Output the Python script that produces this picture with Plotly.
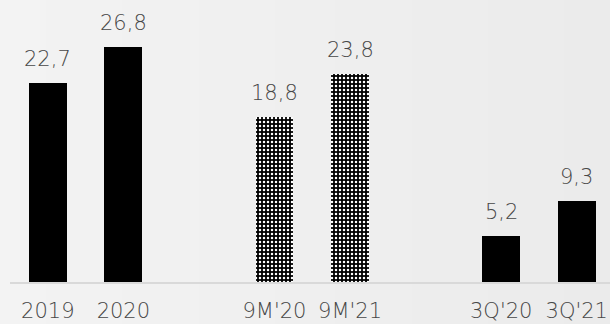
import plotly.graph_objects as go

# Revenue-style comparison: full years, nine months, third quarter
groups = [
    ["2019", "2020"],
    ["9M'20", "9M'21"],
    ["3Q'20", "3Q'21"],
]
values = [
    [22.7, 26.8],
    [18.8, 23.8],
    [5.2, 9.3],
]
patterned = [False, True, False]

TEXT_COLOR = "#474747"
FONT = "DejaVu Sans"
FONT_SIZE = 21
WEIGHT = 300

fig = go.Figure()

# place groups on a numeric axis with one empty slot between groups
labels, xs = [], []
slot = 0
for gi, (cats, vals) in enumerate(zip(groups, values)):
    gx = []
    for c in cats:
        gx.append(slot)
        labels.append(c)
        xs.append(slot)
        slot += 1
    slot += 1
    pattern = dict(shape=".", fgcolor="white", bgcolor="black",
                   size=4, solidity=0.3, fillmode="replace") if patterned[gi] else dict(shape="")
    fig.add_trace(go.Bar(
        x=gx, y=vals, width=0.5,
        marker=dict(color="black", line=dict(width=0), pattern=pattern),
        hoverinfo="skip", showlegend=False,
    ))
    for x, v in zip(gx, vals):
        fig.add_annotation(
            x=x, y=v, text=f"{v:.1f}".replace(".", ","),
            showarrow=False, yanchor="bottom", yshift=10,
            font=dict(family=FONT, size=FONT_SIZE, color=TEXT_COLOR, weight=WEIGHT),
        )

# soft horizontal background gradient
n_strips = 40
left_px, width_px = 10, 600
for i in range(n_strips):
    c = round(243 - 8 * i / (n_strips - 1))
    px0 = 610 * i / n_strips
    px1 = 610 * (i + 1) / n_strips + 1
    fig.add_shape(
        type="rect", xref="paper", yref="paper",
        x0=(px0 - left_px) / width_px, x1=(px1 - left_px) / width_px,
        y0=-0.2, y1=1.05, line=dict(width=0),
        fillcolor=f"rgb({c},{c},{c})", layer="below",
    )

fig.update_layout(
    width=610, height=324,
    margin=dict(l=10, r=0, t=0, b=42),
    paper_bgcolor="#efefef",
    plot_bgcolor="rgba(0,0,0,0)",
    bargap=0,
    xaxis=dict(
        range=[-0.5, 7.44], tickvals=xs, ticktext=labels,
        showgrid=False, zeroline=False, showline=True,
        linecolor="#d9d9d9", linewidth=2, ticks="",
        ticklabelstandoff=9, automargin=False,
        tickfont=dict(family=FONT, size=FONT_SIZE, color=TEXT_COLOR, weight=WEIGHT),
        fixedrange=True,
    ),
    yaxis=dict(
        range=[0, 32.2], visible=False, fixedrange=True, automargin=False,
    ),
)

fig.write_html("out.html")
